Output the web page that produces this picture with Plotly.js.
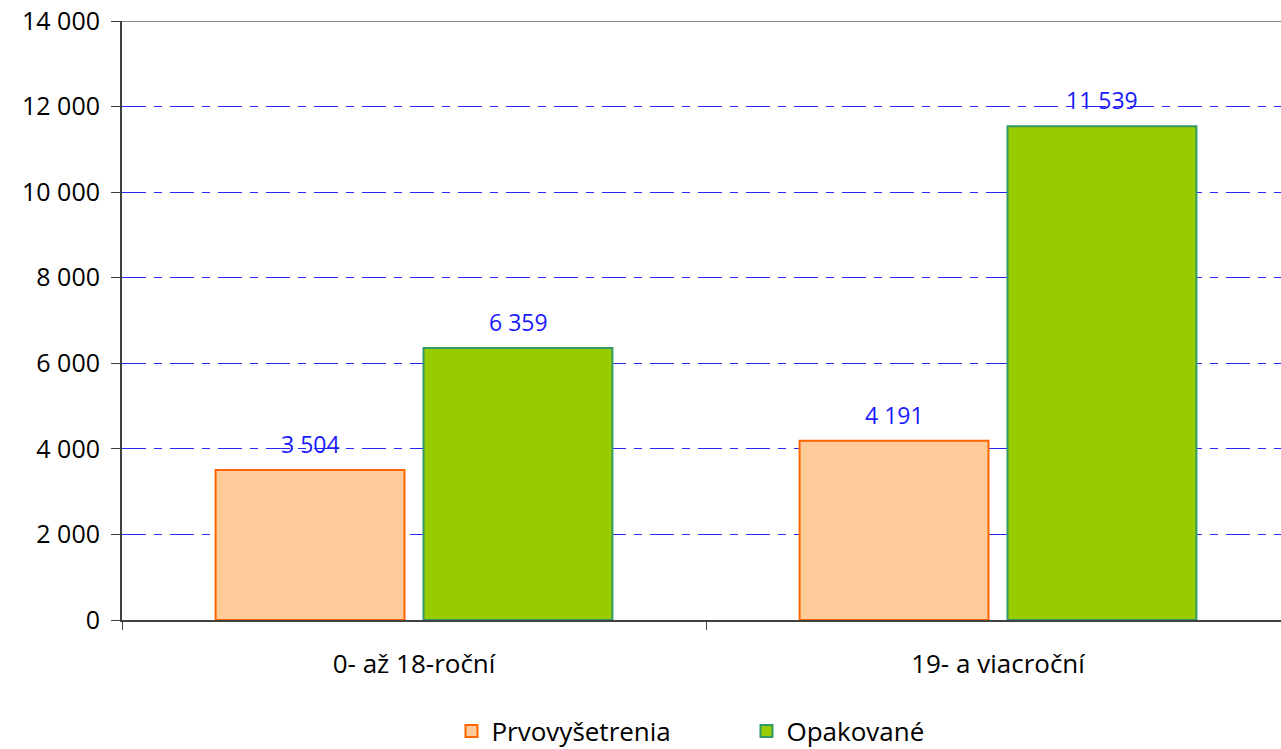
<!DOCTYPE html>
<html>
<head>
<meta charset="utf-8">
<script src="https://cdn.plot.ly/plotly-3.0.1.min.js"></script>
<style>html,body{margin:0;padding:0;background:#fff;}#chart{width:1281px;height:749px;}</style>
</head>
<body>
<div id="chart"></div>
<script>
const categories = ["0- až 18-roční", "19- a viacroční"];
const seriesNames = ["Prvovyšetrenia", "Opakované"];
const prvovysetrenia = [3504, 4191];
const opakovane = [6359, 11539];
const yTickValues = [0, 2000, 4000, 6000, 8000, 10000, 12000, 14000];
const yTickLabels = ["0", "2 000", "4 000", "6 000", "8 000", "10 000", "12 000", "14 000"];

function fmt(v) { return String(v).replace(/\B(?=(\d{3})+(?!\d))/g, " "); }

const FONT = "Open Sans, Lato, DejaVu Sans, sans-serif";

const traces = [
  {
    type: "bar", name: seriesNames[0], x: categories, y: prvovysetrenia,
    marker: { color: "#FFCC99", line: { color: "#FF6600", width: 2 } },
    hoverinfo: "skip"
  },
  {
    type: "bar", name: seriesNames[1], x: categories, y: opakovane,
    marker: { color: "#99CC00", line: { color: "#339966", width: 2 } },
    hoverinfo: "skip"
  }
];

const annotations = [];
[prvovysetrenia, opakovane].forEach((vals, si) => {
  vals.forEach((v, ci) => {
    annotations.push({
      x: categories[ci], y: v, xref: "x", yref: "y",
      text: fmt(v), showarrow: false, yanchor: "bottom",
      xshift: si === 0 ? -104 : 104, yshift: 8,
      font: { family: FONT, size: 23, color: "#1a1aff" }
    });
  });
});

const layout = {
  width: 1281, height: 749,
  margin: { l: 122, r: 0, t: 21, b: 129, autoexpand: false },
  paper_bgcolor: "#ffffff", plot_bgcolor: "#ffffff",
  font: { family: FONT, size: 20, color: "#000" },
  barmode: "group", bargap: 0.288, bargroupgap: 0.0913,
  showlegend: true,
  legend: {
    orientation: "h", xref: "paper", x: 0.5388, xanchor: "center",
    yref: "container", y: 0.024, yanchor: "middle",
    font: { family: FONT, size: 26, color: "#000" },
    entrywidth: 250, entrywidthmode: "pixels", tracegroupgap: 0
  },
  xaxis: {
    type: "category", range: [-0.5, 1.4846], automargin: false,
    showline: true, linecolor: "#404040", linewidth: 2,
    ticks: "outside", tickson: "boundaries", ticklen: 8, tickcolor: "#404040", tickwidth: 1,
    tickfont: { family: FONT, size: 26, color: "#000" },
    ticklabelstandoff: 20,
    showgrid: false, zeroline: false, fixedrange: true
  },
  yaxis: {
    range: [0, 14000], automargin: false,
    tickvals: yTickValues, ticktext: yTickLabels,
    showline: true, linecolor: "#404040", linewidth: 2,
    ticks: "outside", ticklen: 9, tickcolor: "#404040", tickwidth: 1,
    tickfont: { family: FONT, size: 25, color: "#000" },
    ticklabelstandoff: 6,
    showgrid: true, gridcolor: "#2626f0", gridwidth: 1, griddash: "24px,8px,8px,8px",
    zeroline: false, fixedrange: true
  },
  shapes: [
    { type: "line", xref: "paper", yref: "y", x0: 0, x1: 1, y0: 14000, y1: 14000,
      line: { color: "#888888", width: 2 } }
  ],
  annotations: annotations
};

Plotly.newPlot("chart", traces, layout, { displayModeBar: false, staticPlot: true });
</script>
</body>
</html>
